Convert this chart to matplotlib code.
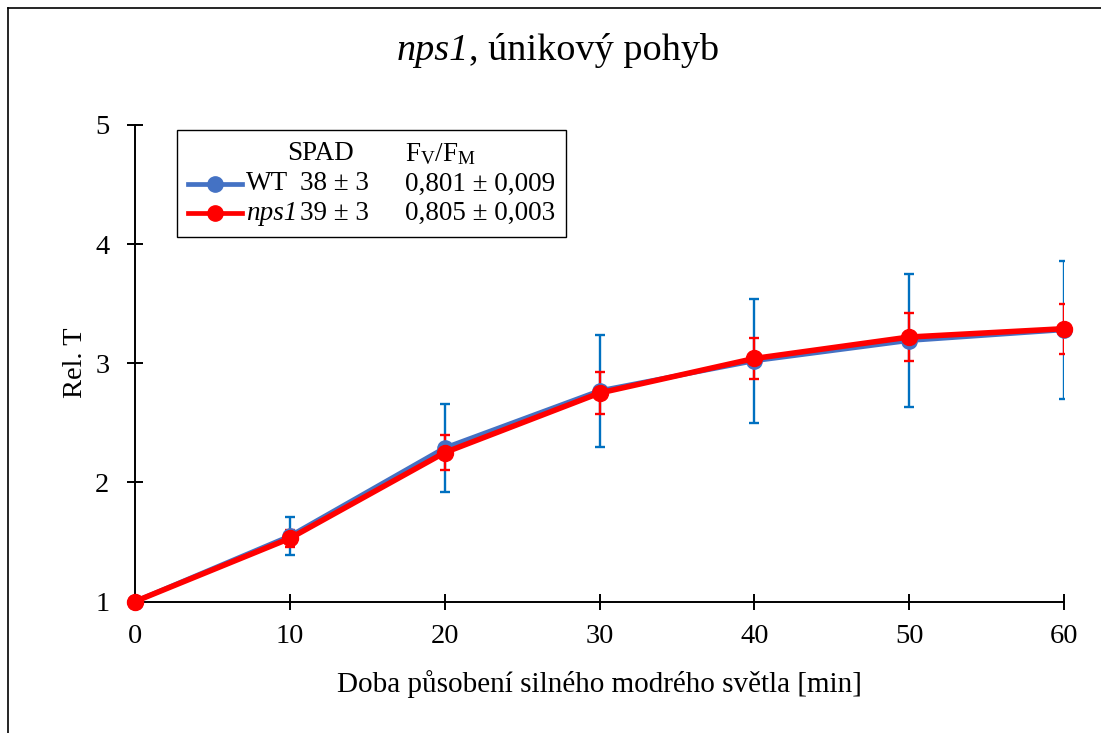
import matplotlib
matplotlib.use("Agg")
import matplotlib.pyplot as plt
from matplotlib.lines import Line2D
from matplotlib.patches import Rectangle
from matplotlib.offsetbox import TextArea, HPacker, AnchoredOffsetbox

plt.rcParams['font.family'] = ['Liberation Serif', 'DejaVu Serif']
plt.rcParams['mathtext.fontset'] = 'custom'
plt.rcParams['mathtext.rm'] = 'Liberation Serif'
plt.rcParams['mathtext.it'] = 'Liberation Serif:italic'

# data
t = [0, 10, 20, 30, 40, 50, 60]
wt = [1.0, 1.55, 2.29, 2.77, 3.02, 3.19, 3.28]
wt_err = [0.0, 0.16, 0.37, 0.47, 0.52, 0.56, 0.58]
nps1 = [1.0, 1.53, 2.25, 2.75, 3.04, 3.22, 3.29]
nps1_err = [0.0, 0.07, 0.15, 0.18, 0.17, 0.20, 0.21]

c_wt = '#4472C4'
c_wt_err = '#0070C0'
c_nps = '#FF0000'

W, H = 1101, 733
fig = plt.figure(figsize=(W / 100, H / 100), dpi=100)
ax = fig.add_axes([135 / W, (H - 601.5) / H, 929 / W, 476.5 / H])

ax.errorbar(t, wt, yerr=wt_err, fmt='none', ecolor=c_wt_err, elinewidth=1.7,
            capsize=3.3, capthick=1.7, zorder=2)
ax.errorbar(t, nps1, yerr=nps1_err, fmt='none', ecolor=c_nps, elinewidth=1.7,
            capsize=3.3, capthick=1.7, zorder=3)
ax.plot(t, wt, '-o', color=c_wt, lw=3.4, ms=11, zorder=4, clip_on=False)
ax.plot(t, nps1, '-o', color=c_nps, lw=4, ms=11.5, zorder=5, clip_on=False)

ax.set_xlim(0, 60)
ax.set_ylim(1, 5)
ax.set_xticks(t)
ax.set_yticks([1, 2, 3, 4, 5])
for s in ['top', 'right']:
    ax.spines[s].set_visible(False)
for s in ['left', 'bottom']:
    ax.spines[s].set_linewidth(1.4)
ax.tick_params(direction='inout', length=11, width=1.4, labelsize=20.5)
ax.tick_params(axis='y', pad=13)
ax.tick_params(axis='x', pad=11)

ax.set_ylabel('Rel. T', fontsize=20.5, labelpad=5)
ax.set_xlabel('Doba působení silného modrého světla [min]', fontsize=21, labelpad=15)

# title: italic gene name + plain rest
ta1 = TextArea('nps1', textprops=dict(fontsize=27.5, fontstyle='italic'))
ta2 = TextArea(', únikový pohyb', textprops=dict(fontsize=27.5))
title_box = HPacker(children=[ta1, ta2], align='baseline', pad=0, sep=0)
fig.add_artist(AnchoredOffsetbox(loc='center', child=title_box, pad=0, borderpad=0,
                                 frameon=False, bbox_to_anchor=(558 / W, 1 - 50 / H),
                                 bbox_transform=fig.transFigure))

# legend drawn by hand (table with SPAD and Fv/Fm)
def af(px, py):
    return ((px - 135) / 929, (601.5 - py) / 476.5)

x0, y0 = af(177, 237)
x1, y1 = af(566, 130)
ax.add_patch(Rectangle((x0, y0), x1 - x0, y1 - y0, transform=ax.transAxes,
                       facecolor='white', edgecolor='black', lw=1.0,
                       zorder=10, clip_on=False))
fs = 19.5
ax.text(*af(287, 154), 'SPAD', transform=ax.transAxes, fontsize=fs, va='center', zorder=11)
ax.text(*af(405, 154), r'F$_\mathrm{V}$/F$_\mathrm{M}$', transform=ax.transAxes,
        fontsize=fs, va='center', zorder=11)
rows = [
    ('WT', 'normal', '38 ± 3', '0,801 ± 0,009', c_wt, 184),
    ('nps1', 'italic', '39 ± 3', '0,805 ± 0,003', c_nps, 213),
]
for name, style, spad, fvfm, col, py in rows:
    lx0, ly = af(188, py)
    lx1, _ = af(242, py)
    ax.add_line(Line2D([lx0, lx1], [ly, ly], color=col, lw=3.4, transform=ax.transAxes,
                       zorder=11, clip_on=False))
    ax.add_line(Line2D([(lx0 + lx1) / 2], [ly], color=col, marker='o', ms=11,
                       transform=ax.transAxes, zorder=12, clip_on=False))
    ax.text(*af(246, py), name, transform=ax.transAxes, fontsize=fs, fontstyle=style,
            va='center', zorder=11)
    ax.text(*af(300, py), spad, transform=ax.transAxes, fontsize=fs, va='center', zorder=11)
    ax.text(*af(405, py), fvfm, transform=ax.transAxes, fontsize=fs, va='center', zorder=11)

# outer frame (only top and left edges are visible in the original)
fig.add_artist(Line2D([8 / W, 1], [1 - 8 / H, 1 - 8 / H], color='black', lw=1.2,
                      transform=fig.transFigure))
fig.add_artist(Line2D([8 / W, 8 / W], [0, 1 - 8 / H], color='black', lw=1.2,
                      transform=fig.transFigure))

fig.savefig('out.png', dpi=100)
